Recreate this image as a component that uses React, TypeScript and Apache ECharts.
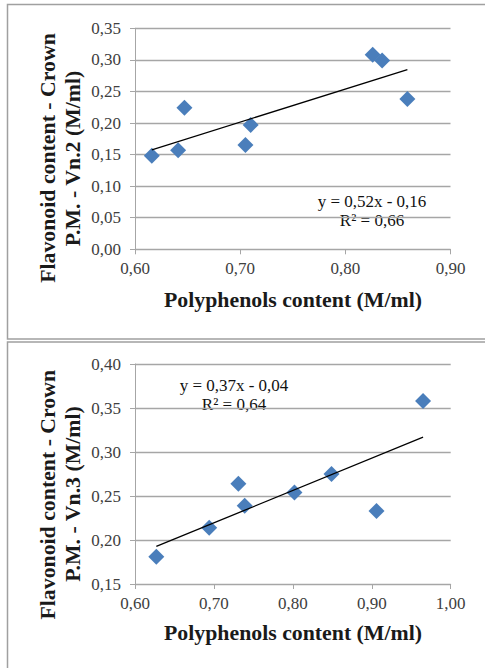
import React, { useEffect, useRef } from "react";
import * as echarts from "echarts";

// Chart 1: Vn.2
const polyVn2 = [0.616, 0.641, 0.647, 0.705, 0.71, 0.826, 0.835, 0.859];
const flavVn2 = [0.148, 0.157, 0.224, 0.165, 0.197, 0.308, 0.299, 0.238];
const eqVn2 = "y = 0,52x - 0,16";
const r2Vn2 = "R² = 0,66";

// Chart 2: Vn.3
const polyVn3 = [0.627, 0.694, 0.731, 0.739, 0.802, 0.849, 0.906, 0.965];
const flavVn3 = [0.181, 0.214, 0.264, 0.239, 0.254, 0.275, 0.233, 0.358];
const eqVn3 = "y = 0,37x - 0,04";
const r2Vn3 = "R² = 0,64";

const xTitle = "Polyphenols content (M/ml)";
const yTitle1 = "Flavonoid content - Crown";
const yTitleVn2 = "P.M. - Vn.2 (M/ml)";
const yTitleVn3 = "P.M. - Vn.3 (M/ml)";

const FONT = "'Liberation Serif', 'Times New Roman', serif";

function regression(xs: number[], ys: number[]) {
  const n = xs.length;
  const mx = xs.reduce((a, b) => a + b, 0) / n;
  const my = ys.reduce((a, b) => a + b, 0) / n;
  let sxy = 0, sxx = 0;
  for (let i = 0; i < n; i++) {
    sxy += (xs[i] - mx) * (ys[i] - my);
    sxx += (xs[i] - mx) ** 2;
  }
  const slope = sxy / sxx;
  const intercept = my - slope * mx;
  const x0 = Math.min(...xs);
  const x1 = Math.max(...xs);
  return [
    [x0, slope * x0 + intercept],
    [x1, slope * x1 + intercept],
  ];
}

const fmt = (v: number) => v.toFixed(2).replace(".", ",");

export default function App() {
  const ref = useRef<HTMLDivElement>(null);
  useEffect(() => {
    document.body.style.margin = "0";
    if (!ref.current) return;
    const chart = echarts.init(ref.current, null, { renderer: "svg" });
    const gridColor = "#a6a6a6";
    const labelStyle = { color: "#404040", fontFamily: FONT, fontSize: 17 };
    const mkX = (gi: number, max: number) => ({
      type: "value",
      gridIndex: gi,
      min: 0.6,
      max,
      interval: 0.1,
      axisLine: { show: true, lineStyle: { color: gridColor, width: 1 } },
      axisTick: { show: true, length: 5, lineStyle: { color: gridColor } },
      splitLine: { show: false },
      axisLabel: { ...labelStyle, margin: 11, formatter: fmt },
    });
    const mkY = (gi: number, min: number, max: number) => ({
      type: "value",
      gridIndex: gi,
      min,
      max,
      interval: 0.05,
      axisLine: { show: true, lineStyle: { color: gridColor, width: 1 } },
      axisTick: { show: true, length: 5, lineStyle: { color: gridColor } },
      splitLine: { show: true, lineStyle: { color: gridColor, width: 1.3 } },
      axisLabel: { ...labelStyle, margin: 14, formatter: fmt },
    });
    const scatterStyle = { color: "#4a7ebb", opacity: 1 };
    const titleStyle = {
      fill: "#1a1a1a",
      font: `bold 21.8px ${FONT}`,
      textAlign: "center",
      textVerticalAlign: "middle",
    };
    const eqStyle = {
      fill: "#111",
      font: `17px ${FONT}`,
      textAlign: "center",
      textVerticalAlign: "middle",
    };
    chart.setOption({
      animation: false,
      grid: [
        { left: 135, top: 28.3, width: 315.5, height: 221 },
        { left: 135, top: 364, width: 315.7, height: 220 },
      ],
      xAxis: [mkX(0, 0.9), mkX(1, 1.0)],
      yAxis: [mkY(0, 0, 0.35), mkY(1, 0.15, 0.4)],
      series: [
        {
          type: "line",
          xAxisIndex: 0,
          yAxisIndex: 0,
          data: regression(polyVn2, flavVn2),
          symbol: "none",
          lineStyle: { color: "#000", width: 1.3 },
          z: 3,
        },
        {
          type: "scatter",
          xAxisIndex: 0,
          yAxisIndex: 0,
          data: polyVn2.map((x, i) => [x, flavVn2[i]]),
          symbol: "diamond",
          symbolSize: 16,
          itemStyle: scatterStyle,
          z: 2,
        },
        {
          type: "line",
          xAxisIndex: 1,
          yAxisIndex: 1,
          data: regression(polyVn3, flavVn3),
          symbol: "none",
          lineStyle: { color: "#000", width: 1.3 },
          z: 3,
        },
        {
          type: "scatter",
          xAxisIndex: 1,
          yAxisIndex: 1,
          data: polyVn3.map((x, i) => [x, flavVn3[i]]),
          symbol: "diamond",
          symbolSize: 16,
          itemStyle: scatterStyle,
          z: 2,
        },
      ],
      graphic: [
        {
          type: "rect",
          shape: { x: 7.5, y: 4.5, width: 500, height: 334.5 },
          style: { fill: "none", stroke: "#a0a0a0", lineWidth: 1.5 },
          silent: true,
        },
        {
          type: "rect",
          shape: { x: 7.5, y: 342, width: 500, height: 400 },
          style: { fill: "none", stroke: "#a0a0a0", lineWidth: 1.5 },
          silent: true,
        },
        { type: "text", x: 293, y: 299.5, style: { ...titleStyle, text: xTitle } },
        { type: "text", x: 293, y: 633, style: { ...titleStyle, text: xTitle } },
        { type: "text", x: 47.7, y: 158, rotation: Math.PI / 2, style: { ...titleStyle, text: yTitle1 } },
        { type: "text", x: 73.3, y: 158.5, rotation: Math.PI / 2, style: { ...titleStyle, text: yTitleVn2 } },
        { type: "text", x: 47.7, y: 494.7, rotation: Math.PI / 2, style: { ...titleStyle, text: yTitle1 } },
        { type: "text", x: 73.3, y: 494, rotation: Math.PI / 2, style: { ...titleStyle, text: yTitleVn3 } },
        { type: "text", x: 372, y: 201.7, style: { ...eqStyle, text: eqVn2 } },
        { type: "text", x: 372, y: 220.7, style: { ...eqStyle, text: r2Vn2 } },
        { type: "text", x: 234, y: 385.7, style: { ...eqStyle, text: eqVn3 } },
        { type: "text", x: 234, y: 404.3, style: { ...eqStyle, text: r2Vn3 } },
      ],
    });
    return () => chart.dispose();
  }, []);
  return <div ref={ref} style={{ width: 485, height: 668 }} />;
}
